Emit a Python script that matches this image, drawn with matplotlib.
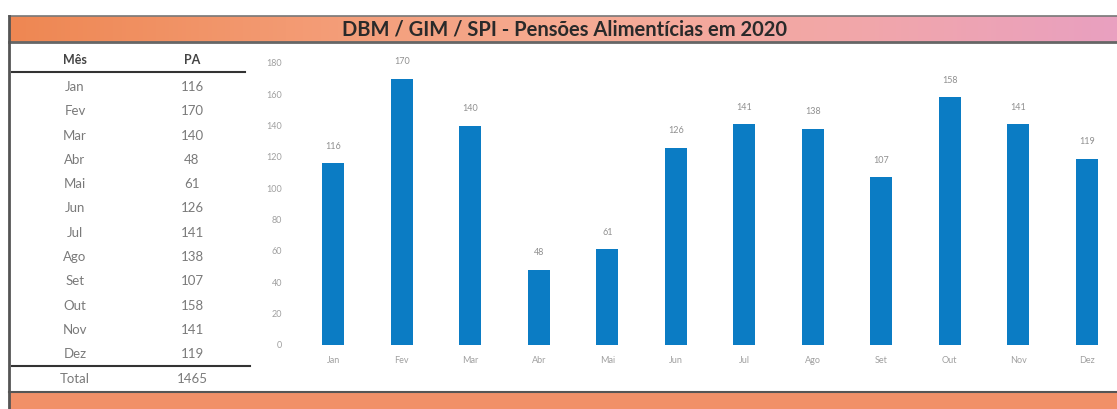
import numpy as np
import matplotlib
matplotlib.use("Agg")
import matplotlib.pyplot as plt
from matplotlib.colors import LinearSegmentedColormap

# dados
meses = ["Jan", "Fev", "Mar", "Abr", "Mai", "Jun", "Jul", "Ago", "Set", "Out", "Nov", "Dez"]
meses_tabela = ["Jan", "Fev", "Mar", "Abr", "Mai", "Jun", "Jul", "Ago", "Set", "Out", "Nov", "Dez"]
pa = [116, 170, 140, 48, 61, 126, 141, 138, 107, 158, 141, 119]
total = 1465
titulo = "DBM / GIM / SPI - Pensões Alimentícias em 2020"

W, H = 1117, 409
plt.rcParams['font.family'] = ['Lato', 'DejaVu Sans']
fig = plt.figure(figsize=(W / 100, H / 100), dpi=100)
fig.patch.set_facecolor("white")

# camada de fundo em pixels
bg = fig.add_axes([0, 0, 1, 1])
bg.set_xlim(0, W)
bg.set_ylim(H, 0)
bg.axis("off")

laranja = LinearSegmentedColormap.from_list(
    "lar", ["#ee8752", "#f39a72", "#f6ab92", "#f2a7a8", "#e9a0c0"])
grad = np.linspace(0, 1, 256).reshape(1, -1)
bg.imshow(grad, cmap=laranja, extent=(9, W, 42, 16), aspect="auto", zorder=1)
bg.fill_between([9, W], 392, 409, color="#f19068", zorder=1)
bg.plot([9, W], [16, 16], color="#777777", lw=1.2, zorder=3)
bg.plot([9, W], [42, 42], color="#666666", lw=2, zorder=3)
bg.plot([9, W], [392, 392], color="#555555", lw=1.5, zorder=3)
bg.plot([9, 9], [16, 409], color="#555555", lw=2, zorder=3)
bg.text(565, 29, titulo, ha="center", va="center", fontsize=14.5,
        fontweight="bold", color="#2a2a2a", zorder=4)

# tabela
bg.text(75, 60, "Mês", ha="center", va="center", fontsize=9, fontweight="bold", color="#444444")
bg.text(192, 60, "PA", ha="center", va="center", fontsize=9, fontweight="bold", color="#444444")
bg.plot([12, 245], [72, 72], color="#333333", lw=1.5)
for i, (m, v) in enumerate(zip(meses_tabela, pa)):
    y = 87 + i * 24.3
    bg.text(75, y, m, ha="center", va="center", fontsize=9.5, color="#7a7a7a")
    bg.text(192, y, str(v), ha="center", va="center", fontsize=9.5, color="#7a7a7a")
bg.plot([12, 250], [366, 366], color="#333333", lw=1.5)
bg.text(75, 379, "Total", ha="center", va="center", fontsize=9.5, color="#7a7a7a")
bg.text(192, 379, str(total), ha="center", va="center", fontsize=9.5, color="#7a7a7a")

# grafico
ax_left, ax_right = 299, W
passo = 68.5
y0, escala = 345, (345 - 63) / 180
ymax = 185
ax = fig.add_axes([ax_left / W, (H - y0) / H, (ax_right - ax_left) / W, ymax * escala / H])
ax.set_facecolor("none")
x = np.arange(len(meses))
barras = ax.bar(x, pa, width=0.32, color="#0b7cc4")
ax.set_xlim(-0.5, (ax_right - ax_left) / passo - 0.5)
ax.set_ylim(0, ymax)
ax.set_yticks(range(0, 181, 20))
ax.set_xticks(x)
ax.set_xticklabels(meses)
ax.tick_params(length=0, labelsize=6.5, colors="#a0a0a0", pad=8)
ax.tick_params(axis="y", pad=12)
for s in ax.spines.values():
    s.set_visible(False)
for xi, v in zip(x, pa):
    ax.text(xi, v + 8, str(v), ha="center", va="bottom", fontsize=6.5, color="#909090")

fig.savefig("out.png", dpi=100)
